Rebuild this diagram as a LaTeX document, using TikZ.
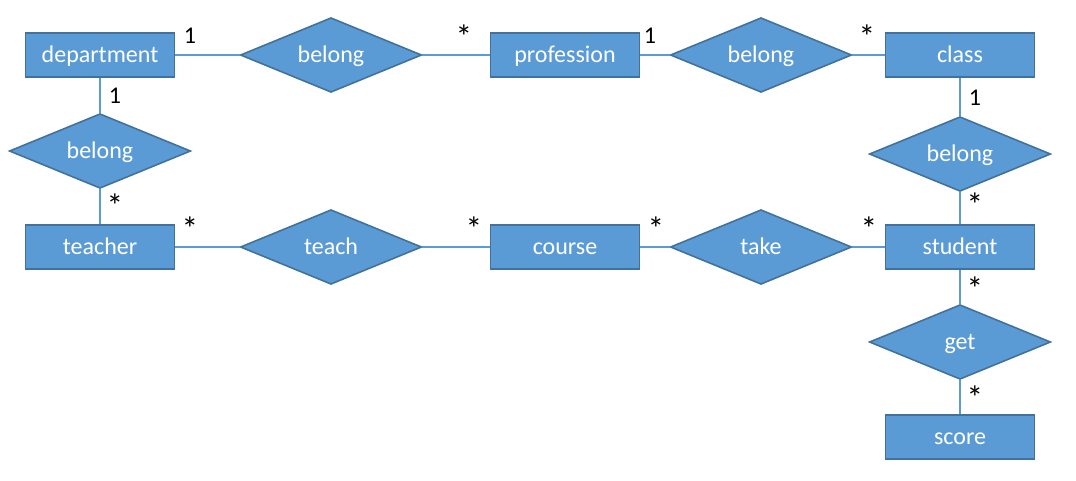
\documentclass[tikz,border=0pt]{standalone}
\usepackage{fontspec}
\setmainfont{Carlito}
\usepackage{tikz}
\usetikzlibrary{positioning, shapes}
\definecolor{erfill}{HTML}{5B9BD5}
\definecolor{erline}{HTML}{41719C}

\begin{document}
\begin{tikzpicture}[x=0.75pt, y=-0.75pt,
  entity/.style={rectangle, draw=erline, fill=erfill, line width=1.2pt,
    minimum width=112pt, minimum height=33pt, text=white,
    text height=13.5pt, text depth=3pt, font=\fontsize{18}{20}\selectfont},
  rel/.style={diamond, aspect=2.4, draw=erline, fill=erfill, line width=1.2pt,
    minimum width=136pt, minimum height=56pt, inner sep=0pt, text=white,
    text height=13.5pt, text depth=3pt, font=\fontsize{18}{20}\selectfont},
  link/.style={draw=erfill, line width=1.5pt},
  card/.style={anchor=base, inner sep=0pt, font=\fontsize{18}{20}\selectfont},
  many/.style={card, font=\fontsize{25}{26}\selectfont}]
\useasboundingbox (0,0) rectangle (1076,480);
% top row
\node[entity] (dept) at (100,55) {department};
\node[rel] (belA) at (331,55) {belong};
\node[entity] (prof) at (565,55) {profession};
\node[rel] (belB) at (761,55) {belong};
\node[entity] (class) at (960,55) {class};
% middle
\node[rel] (belC) at (100,151) {belong};
\node[rel] (belD) at (960,154) {belong};
% bottom row
\node[entity] (teacher) at (100,247) {teacher};
\node[rel] (teach) at (331,247) {teach};
\node[entity] (course) at (565,247) {course};
\node[rel] (take) at (761,247) {take};
\node[entity] (student) at (960,247) {student};
% score
\node[rel] (get) at (960,342) {get};
\node[entity] (score) at (960,437) {score};
% links
\draw[link] (dept) -- (belA) (belA) -- (prof) (prof) -- (belB) (belB) -- (class);
\draw[link] (dept) -- (belC) (belC) -- (teacher);
\draw[link] (class) -- (belD) (belD) -- (student);
\draw[link] (teacher) -- (teach) (teach) -- (course) (course) -- (take) (take) -- (student);
\draw[link] (student) -- (get) (get) -- (score);
% multiplicities
\node[card] (m1) at (190,43) {1};
\node[many] (m2) at (464,48) {*};
\node[card] (m3) at (650,43) {1};
\node[many] (m4) at (867,48) {*};
\node[card] (m5) at (115,103) {1};
\node[many] (m6) at (115,217) {*};
\node[many] (m7) at (190,240) {*};
\node[many] (m8) at (474,240) {*};
\node[many] (m9) at (656,240) {*};
\node[many] (m10) at (869,240) {*};
\node[card] (m11) at (975,105) {1};
\node[many] (m12) at (975,216) {*};
\node[many] (m13) at (975,300) {*};
\node[many] (m14) at (975,409) {*};
\end{tikzpicture}
\end{document}
